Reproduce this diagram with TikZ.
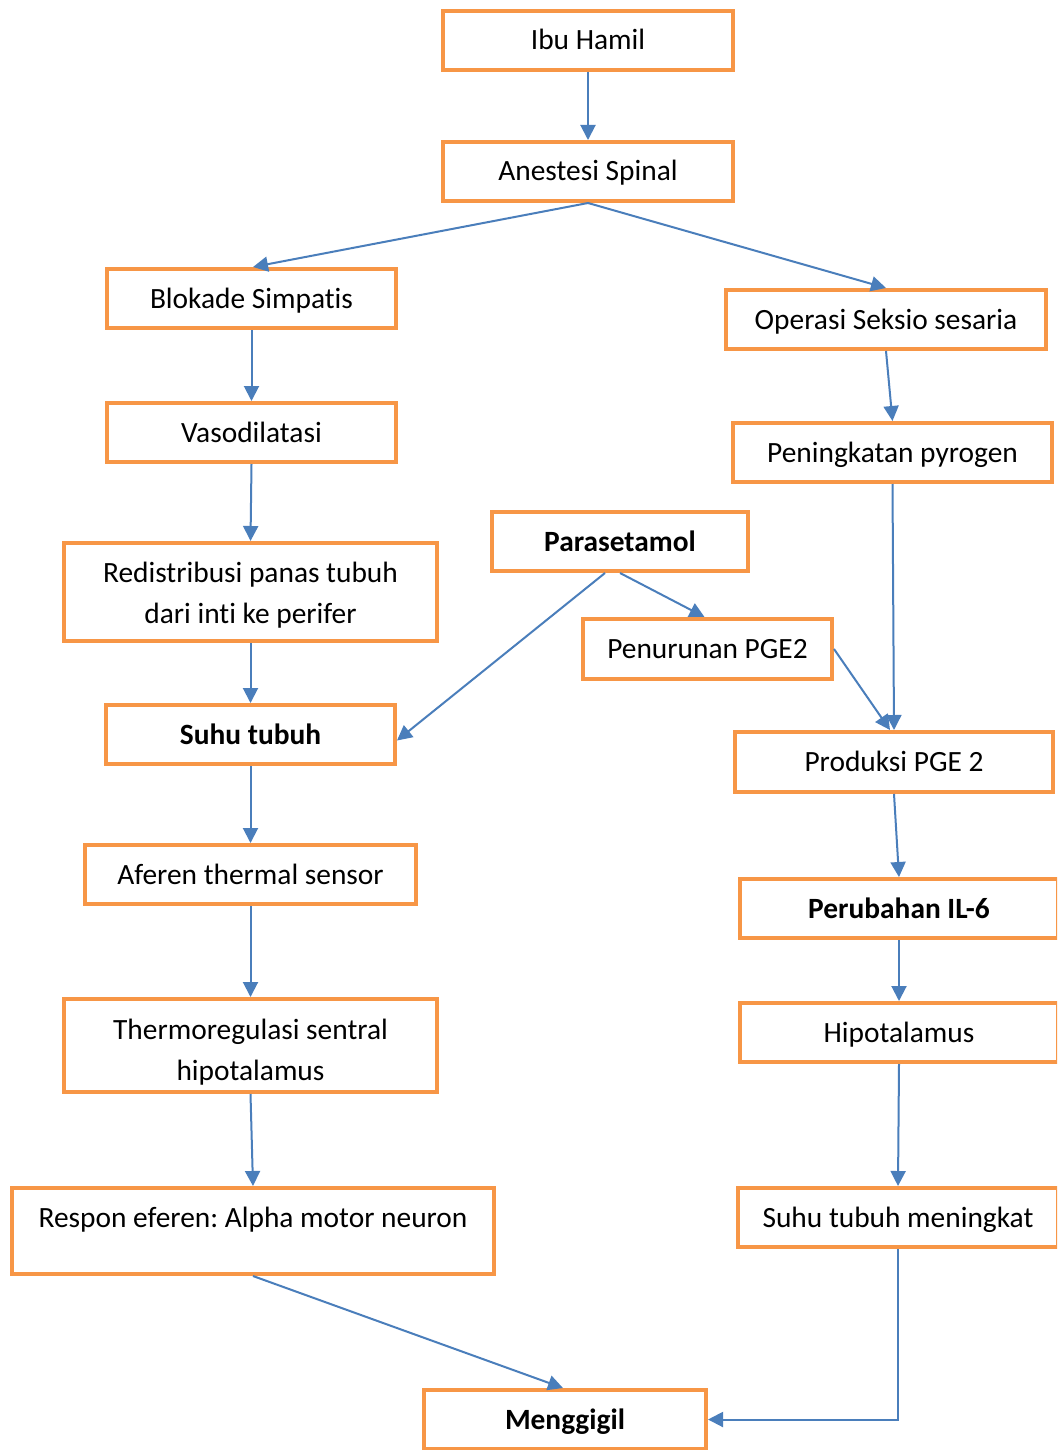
\documentclass[tikz,border=0pt]{standalone}
\usepackage{fontspec}
\setmainfont[Ligatures=NoCommon,RawFeature=-liga]{Carlito}
\usetikzlibrary{arrows.meta,calc}
\definecolor{boxorange}{HTML}{F79646}
\definecolor{arrowblue}{HTML}{4A7EBB}
\newcommand{\boxfont}{\fontsize{29.4}{41}\selectfont}
\begin{document}
\frenchspacing
\begin{tikzpicture}[x=1pt,y=-1pt,
  box/.style={draw=boxorange,line width=4pt,fill=white,inner sep=0pt,
    minimum height=59pt,align=center,font=\boxfont,text=black,
    text height=22pt,text depth=3pt},
  emptybox/.style={draw=boxorange,line width=4pt,fill=white,inner sep=0pt},
  boldbox/.style={box,font=\boxfont\bfseries},
  plaintext/.style={font=\boxfont,align=center,inner sep=0pt},
  conn/.style={draw=arrowblue,line width=2pt,-{Triangle[length=15pt,width=15pt]}}]
\clip (0,0) rectangle (1057,1450);
\fill[white] (0,0) rectangle (1057,1450);
\node[box,minimum width=290pt] (ibu) at (588,40.5) {Ibu Hamil};
\node[box,minimum width=290pt] (anes) at (588,171.5) {Anestesi Spinal};
\node[box,minimum width=289pt] (blok) at (251.5,298.5) {Blokade Simpatis};
\node[box,minimum width=320pt] (oper) at (886,319.5) {Operasi Seksio sesaria};
\node[box,minimum width=289pt] (vaso) at (251.5,432.5) {Vasodilatasi};
\node[box,minimum width=319pt] (pening) at (892.5,452.5) {Peningkatan pyrogen};
\node[boldbox,minimum width=256pt] (para) at (620,541.5) {Parasetamol};
\node[emptybox,minimum width=373pt,minimum height=98pt] (redis) at (250.5,592) {};
\node[plaintext] (redistext) at (250.5,595) {Redistribusi panas tubuh\\dari inti ke perifer};
\node[box,minimum width=249pt,minimum height=60pt] (penur) at (707.5,649) {Penurunan PGE2};
\node[boldbox,minimum width=289pt] (suhu) at (250.5,734.5) {Suhu tubuh};
\node[box,minimum width=318pt,minimum height=60pt] (prod) at (894,762) {Produksi PGE 2};
\node[box,minimum width=331pt] (afer) at (250.5,874.5) {Aferen thermal sensor};
\node[boldbox,minimum width=318pt] (perub) at (899,908.5) {Perubahan IL-6};
\node[emptybox,minimum width=373pt,minimum height=93pt] (thermo) at (250.5,1045.5) {};
\begin{scope}
\clip (70,1004) rectangle (431,1086);
\node[plaintext] (thermotext) at (250.5,1052) {Thermoregulasi sentral\\hipotalamus};
\end{scope}
\node[box,minimum width=318pt] (hipo) at (899,1032.5) {Hipotalamus};
\node[emptybox,minimum width=482pt,minimum height=86pt] (respon) at (253,1231) {};
\node[plaintext] (respontext) at (253,1220) {Respon eferen: Alpha motor neuron};
\node[box,minimum width=320pt] (suhum) at (898,1217.5) {Suhu tubuh meningkat};
\node[boldbox,minimum width=282pt] (meng) at (565,1419.5) {Menggigil};
\draw[conn] (ibu.south) -- (anes.north);
\draw[conn] (anes.south) -- ([xshift=1.5pt]blok.north);
\draw[conn] (anes.south) -- (oper.north);
\draw[conn] (blok.south) -- (vaso.north);
\draw[conn] (vaso.south) -- (redis.north);
\draw[conn] (redis.south) -- (suhu.north);
\draw[conn] (oper.south) -- (pening.north);
\draw[conn] (pening.south) -- (prod.north);
\draw[conn] ([xshift=-15pt]para.south) -- ([yshift=-6pt]suhu.east);
\draw[conn] (para.south) -- ([xshift=-3pt]penur.north);
\draw[conn] (penur.east) -- ([xshift=-4pt]prod.north);
\draw[conn] (suhu.south) -- (afer.north);
\draw[conn] (prod.south) -- (perub.north);
\draw[conn] (afer.south) -- (thermo.north);
\draw[conn] (perub.south) -- (hipo.north);
\draw[conn] (thermo.south) -- (respon.north);
\draw[conn] (hipo.south) -- (suhum.north);
\draw[conn] (respon.south) -- ([xshift=-2pt]meng.north);
\draw[conn] (suhum.south) |- (meng.east);
\end{tikzpicture}
\end{document}
